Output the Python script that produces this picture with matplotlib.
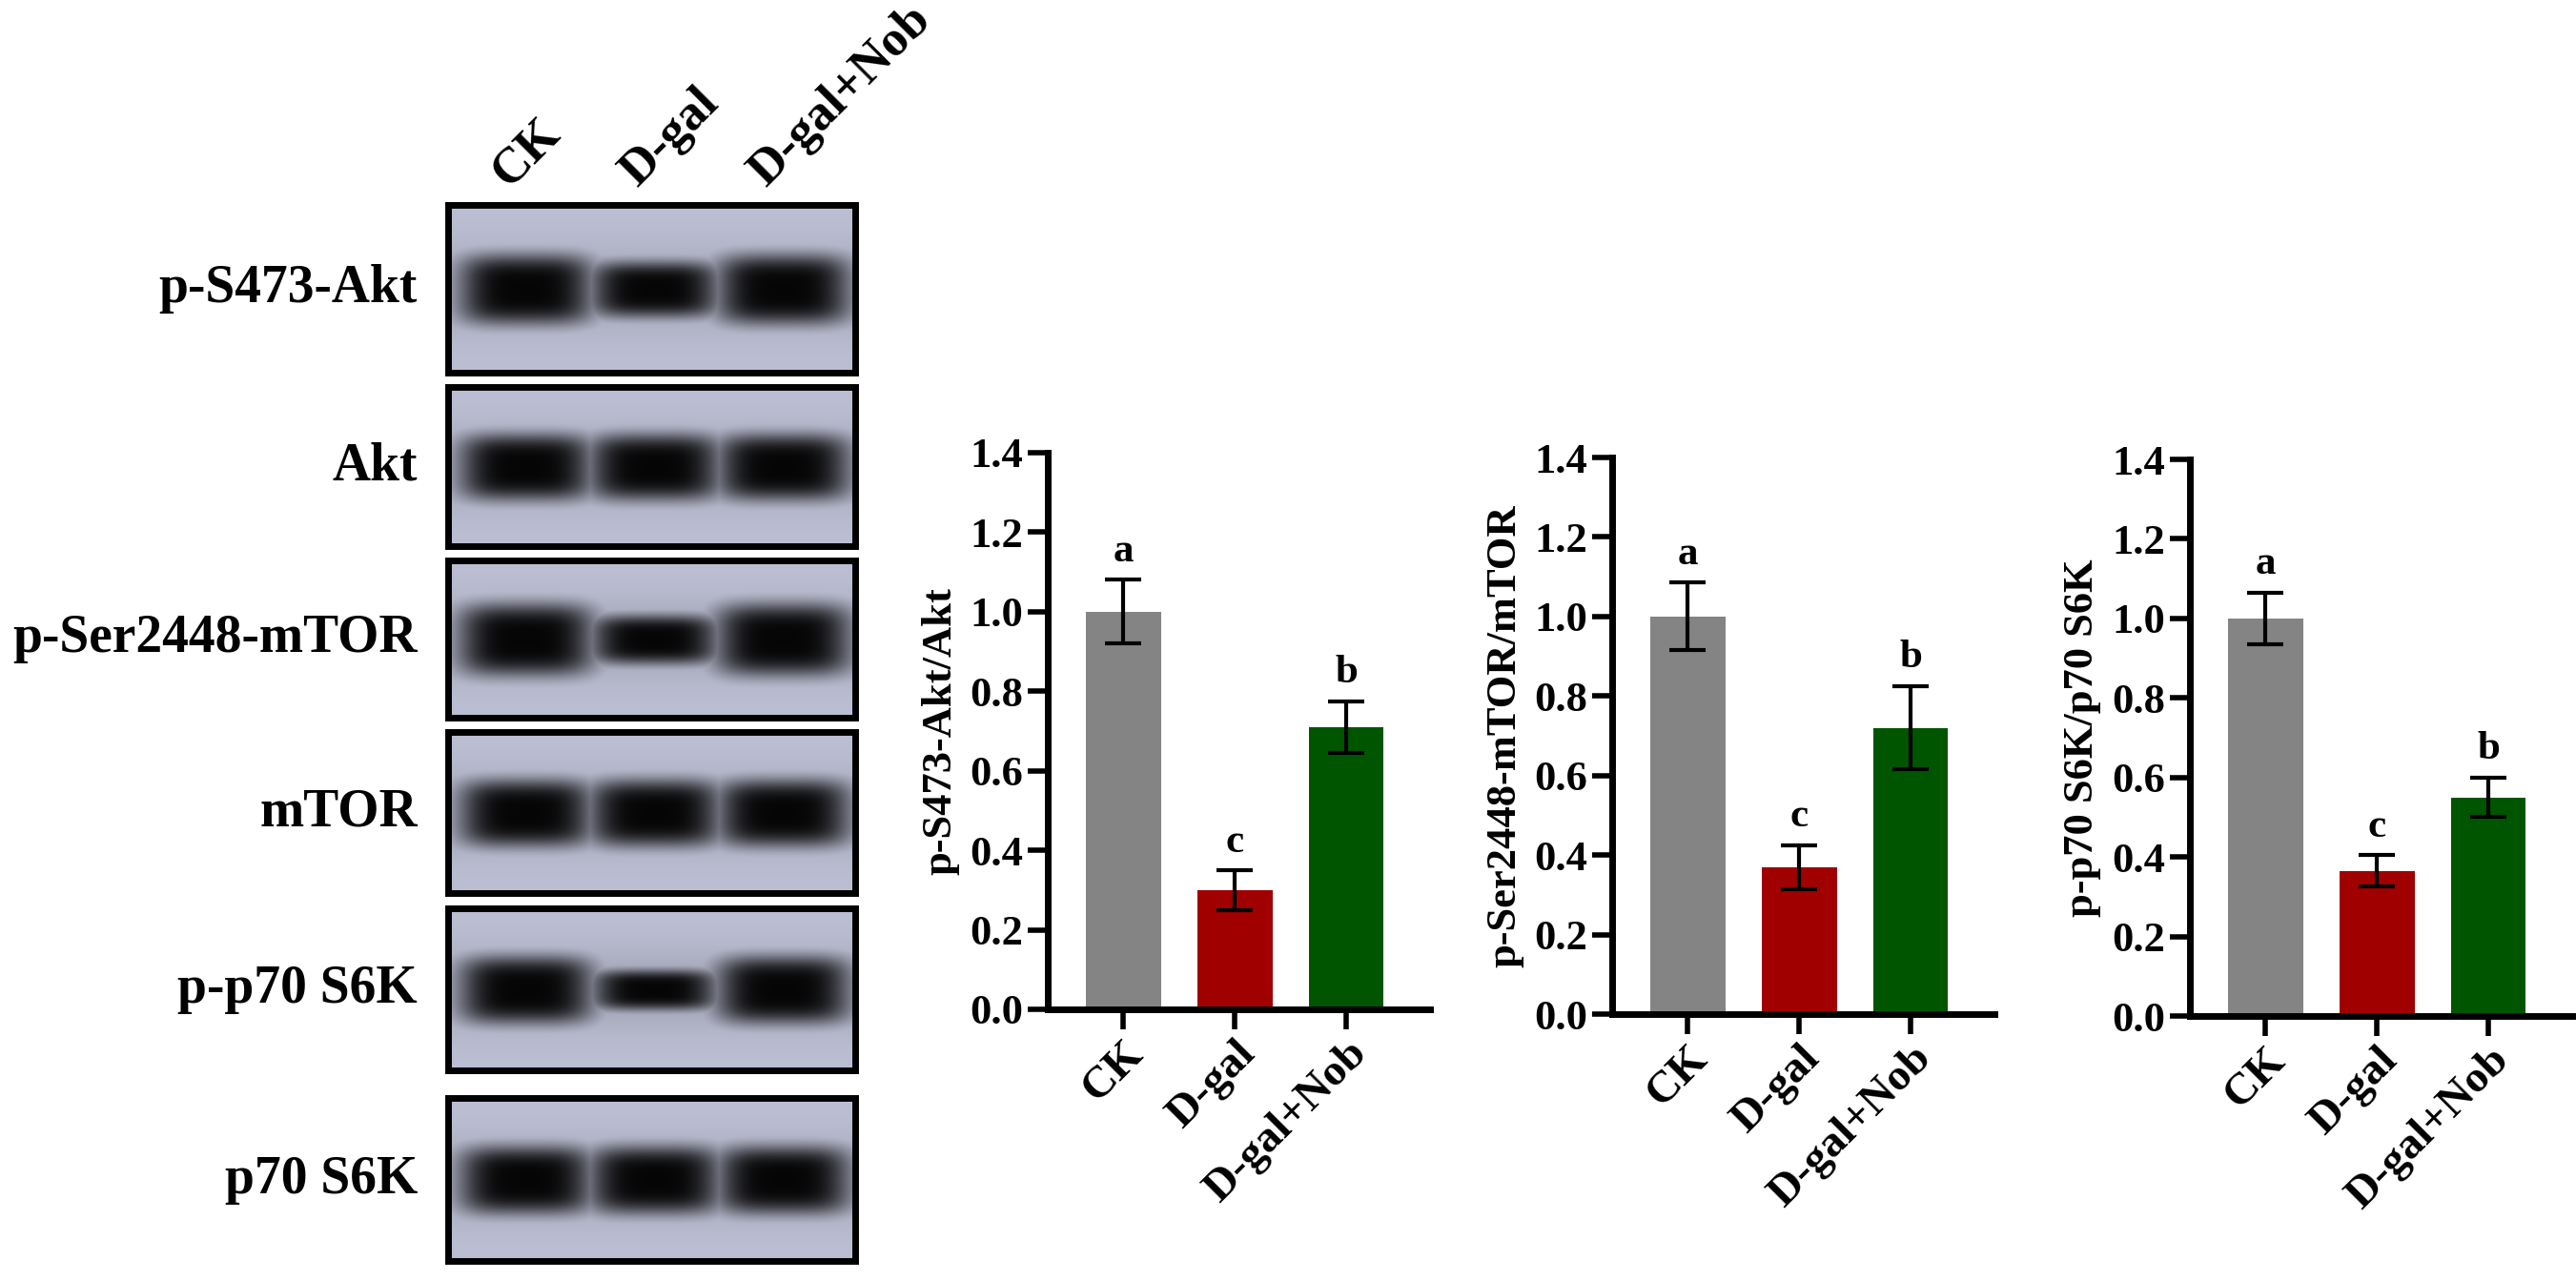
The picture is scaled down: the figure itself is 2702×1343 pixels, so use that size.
import numpy as np
import matplotlib
matplotlib.use("Agg")
import matplotlib.pyplot as plt

plt.rcParams['font.family'] = ['Liberation Serif', 'DejaVu Serif']
plt.rcParams['font.weight'] = 'bold'

groups = ["CK", "D-gal", "D-gal+Nob"]
colors = ["#848484", "#a00000", "#005500"]
letters = ["a", "c", "b"]
akt_vals = [1.00, 0.30, 0.71]
akt_err = [0.08, 0.05, 0.065]
mtor_vals = [1.00, 0.37, 0.72]
mtor_err = [0.085, 0.055, 0.105]
s6k_vals = [1.00, 0.365, 0.55]
s6k_err = [0.065, 0.04, 0.05]
ylabels = ["p-S473-Akt/Akt", "p-Ser2448-mTOR/mTOR", "p-p70 S6K/p70 S6K"]
blot_labels = ["p-S473-Akt", "Akt", "p-Ser2448-mTOR", "mTOR", "p-p70 S6K", "p70 S6K"]
band_int = [[1.0, 0.8, 1.0], [1.0, 1.0, 1.0], [1.1, 0.75, 1.1],
            [1.0, 1.0, 1.0], [1.0, 0.6, 1.0], [1.0, 1.0, 1.0]]

W, H = 2702, 1343
fig = plt.figure(figsize=(W / 100, H / 100), dpi=100)
ov = fig.add_axes([0, 0, 1, 1])
ov.set_xlim(0, W); ov.set_ylim(H, 0); ov.axis('off')

boxes = [(215, 391), (406, 573), (588, 753), (768, 937), (953, 1123), (1152, 1323)]
x0, x1 = 470, 897
lanes = [551, 686, 821]
for (ya, yb), lab, ints in zip(boxes, blot_labels, band_int):
    ny, nx = 120, 300
    yy, xx = np.mgrid[0:ny, 0:nx]
    img = np.full((ny, nx, 3), 0.0)
    bg = np.array([0.74, 0.75, 0.83])
    dark = np.zeros((ny, nx))
    for lx, it in zip(lanes, ints):
        cx = (lx - x0) / (x1 - x0) * nx
        hw = 50 * (0.85 + 0.15 * it)
        hh = 25 * it
        dark = np.maximum(dark, np.exp(-((xx - cx) / hw) ** 4 - ((yy - ny / 2) / hh) ** 4))
    dark = np.maximum(dark, 0.15 * np.exp(-((yy - ny / 2) / 30) ** 2))
    for c in range(3):
        img[..., c] = bg[c] * (1 - 0.97 * dark)
    ov.imshow(img, extent=(x0, x1, yb, ya), aspect='auto', zorder=1, interpolation='bilinear')
    ov.add_patch(plt.Rectangle((x0, ya), x1 - x0, yb - ya, fill=False, lw=5, ec='black', zorder=2))
    ov.text(438, (ya + yb) / 2, lab, ha='right', va='center', fontsize=40, fontweight='bold')
for lx, g in zip(lanes, groups):
    ov.text(lx - 10, 205, g, rotation=45, ha='left', va='bottom', fontsize=38, fontweight='bold', rotation_mode='anchor')
ov.set_ylim(H, 0)

axes_px = [(1099, 1500, 475), (1691, 2092, 480), (2297, 2698, 482)]
data = [(akt_vals, akt_err), (mtor_vals, mtor_err), (s6k_vals, s6k_err)]
for (l, r, top), (v, e), yl in zip(axes_px, data, ylabels):
    bot = top + 584
    ax = fig.add_axes([l / W, 1 - bot / H, (r - l) / W, (bot - top) / H])
    x = np.arange(3)
    ax.bar(x, v, width=0.67, color=colors, zorder=2)
    ax.errorbar(x, v, yerr=e, fmt='none', ecolor='black', elinewidth=3, capsize=14, capthick=3, zorder=3)
    for xi, vi, ei, lt in zip(x, v, e, letters):
        ax.text(xi, vi + ei + 0.025, lt, ha='center', va='bottom', fontsize=31, fontweight='bold')
    ax.set_xlim(-0.68, 2.75)
    ax.set_ylim(0, 1.4)
    ax.set_yticks(np.arange(0, 1.41, 0.2))
    ax.set_yticklabels([f"{t:.1f}" for t in np.arange(0, 1.41, 0.2)])
    ax.set_xticks(x)
    ax.set_xticklabels(groups, rotation=45, ha='right', rotation_mode='anchor')
    ax.tick_params(labelsize=32, width=4, length=15)
    ax.tick_params(axis='x', labelsize=34)
    for lab in ax.get_xticklabels() + ax.get_yticklabels():
        lab.set_fontweight('bold')
    ax.spines['top'].set_visible(False)
    ax.spines['right'].set_visible(False)
    ax.spines['left'].set_linewidth(5)
    ax.spines['bottom'].set_linewidth(5)
    ax.set_ylabel(yl, fontsize=32, fontweight='bold', labelpad=8)

fig.savefig("out.png", dpi=100)
